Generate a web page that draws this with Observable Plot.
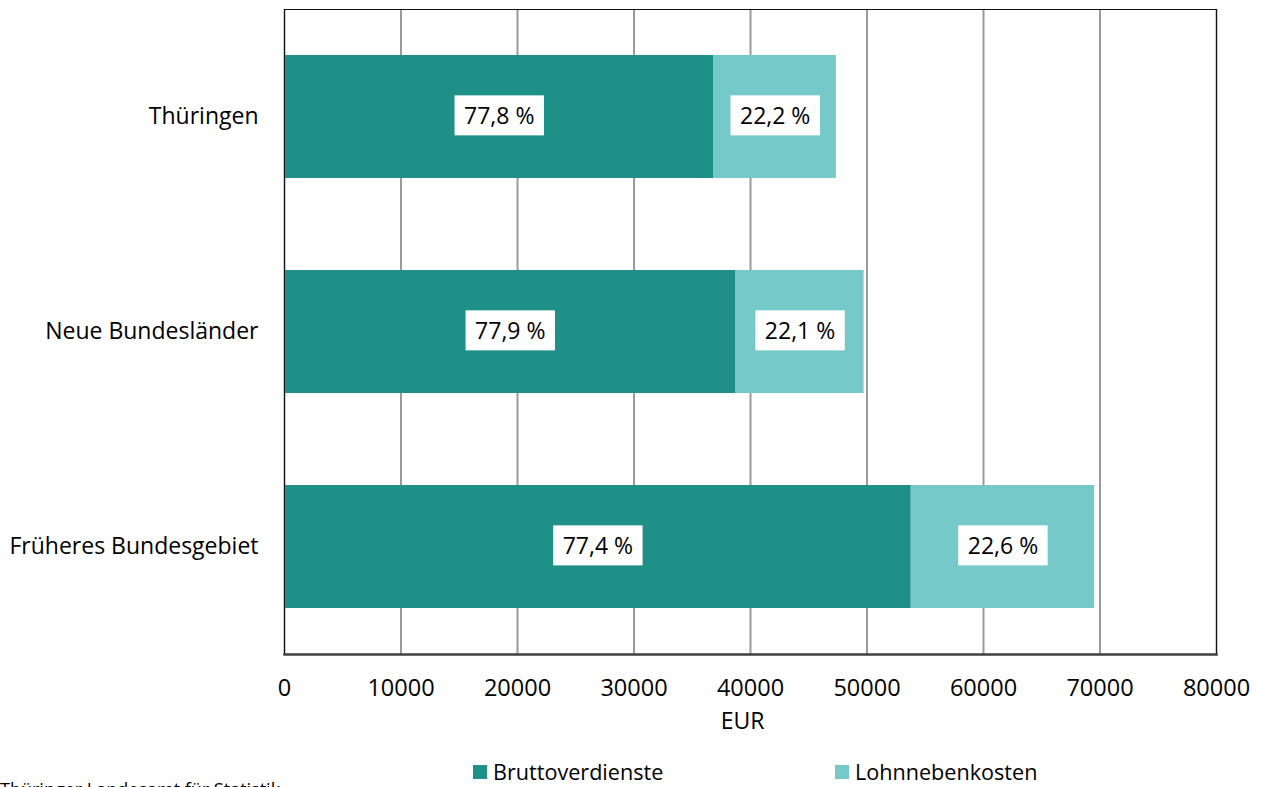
<!DOCTYPE html>
<html>
<head>
<meta charset="utf-8">
<script src="https://cdn.jsdelivr.net/npm/d3@7"></script>
<script src="https://cdn.jsdelivr.net/npm/@observablehq/plot@0.6"></script>
<style>
  html, body { margin: 0; padding: 0; background: #fff; overflow: hidden; }
  #wrap { position: relative; width: 1262px; height: 787px; font-family: 'Open Sans', sans-serif; color: #000; }
  #chart svg { display: block; }
  .leg { position: absolute; top: 759px; font-size: 21.6px; line-height: 26px; display: flex; align-items: center; white-space: nowrap; }
  .leg span.sw { display: inline-block; width: 14px; height: 14px; margin-right: 6px; }
  #caption { position: absolute; left: 0; top: 780px; font-size: 18px; line-height: 1; white-space: nowrap; }
</style>
</head>
<body>
<div id="wrap">
  <div id="chart"></div>
  <div class="leg" id="leg0" style="left:473px"></div>
  <div class="leg" id="leg1" style="left:835px"></div>
  <div id="caption">Thüringer Landesamt für Statistik</div>
</div>
<script>
const regions = ["Thüringen", "Neue Bundesländer", "Früheres Bundesgebiet"];
const bruttoverdienste = [36870, 38760, 53800];
const lohnnebenkosten = [10500, 10990, 15740];
const bruttoPct = ["77,8 %", "77,9 %", "77,4 %"];
const nebenPct = ["22,2 %", "22,1 %", "22,6 %"];
const seriesNames = ["Bruttoverdienste", "Lohnnebenkosten"];
const seriesColors = ["#1F9088", "#75C9C8"];
const xTicks = [0, 10000, 20000, 30000, 40000, 50000, 60000, 70000, 80000];
const axisLabel = "EUR";

const data = regions.flatMap((r, i) => [
  {region: r, series: seriesNames[0], value: bruttoverdienste[i], label: bruttoPct[i]},
  {region: r, series: seriesNames[1], value: lohnnebenkosten[i], label: nebenPct[i]}
]);

const chart = Plot.plot({
  width: 1262,
  height: 740,
  marginTop: 9,
  marginBottom: 86,
  marginLeft: 284,
  marginRight: 46,
  style: {fontFamily: "'Open Sans', sans-serif", fontSize: "23px", color: "#000", background: "#fff"},
  x: {domain: [0, 80000], label: null},
  y: {domain: regions, paddingInner: 0.43, paddingOuter: 0.215, label: null},
  color: {domain: seriesNames, range: seriesColors},
  marks: [
    Plot.gridX(xTicks, {stroke: "#9a9a9a", strokeOpacity: 1, strokeWidth: 2}),
    Plot.barX(data, Plot.stackX({x: "value", y: "region", fill: "series"})),
    Plot.text(data, Plot.stackX({x: "value", y: "region", z: "series", text: "label", fill: "#000", fontSize: 23})),
    Plot.frame({stroke: "#111", strokeWidth: 1}),
    Plot.frame({anchor: "bottom", stroke: "#404040", strokeWidth: 2.5}),
    Plot.axisX({ticks: xTicks, tickSize: 0, tickPadding: 25, tickFormat: d => String(d), fontSize: 23.5, label: null}),
    Plot.axisY({tickSize: 0, tickPadding: 26, fontSize: 23, label: null}),
    Plot.text([axisLabel], {frameAnchor: "bottom", dy: 74, dx: -8, fill: "#000", fontSize: 23})
  ]
});

document.getElementById("chart").appendChild(chart);

// white boxes behind the percentage labels
const labelGroup = chart.querySelectorAll('g[aria-label="text"]')[0];
if (labelGroup) {
  labelGroup.querySelectorAll("text").forEach(t => {
    const b = t.getBBox();
    const padX = 9.5, h = 40;
    const rect = document.createElementNS("http://www.w3.org/2000/svg", "rect");
    rect.setAttribute("x", b.x - padX);
    rect.setAttribute("y", b.y + b.height / 2 - h / 2);
    rect.setAttribute("width", b.width + 2 * padX);
    rect.setAttribute("height", h);
    rect.setAttribute("fill", "#fff");
    rect.setAttribute("stroke", "none");
    const tr = t.getAttribute("transform");
    if (tr) rect.setAttribute("transform", tr);
    labelGroup.insertBefore(rect, t);
  });
}

seriesNames.forEach((s, i) => {
  const el = document.getElementById("leg" + i);
  const sw = document.createElement("span");
  sw.className = "sw";
  sw.style.background = seriesColors[i];
  el.appendChild(sw);
  el.appendChild(document.createTextNode(s));
});
</script>
</body>
</html>
